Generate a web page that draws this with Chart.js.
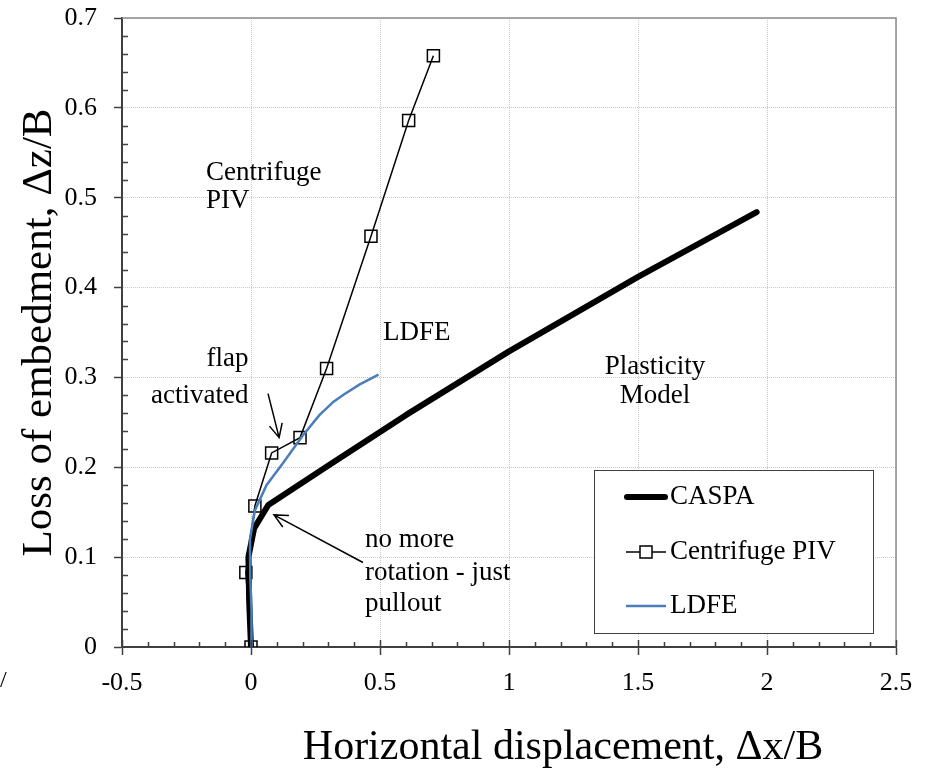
<!DOCTYPE html>
<html>
<head>
<meta charset="utf-8">
<script src="https://cdn.jsdelivr.net/npm/chart.js@4.4.0/dist/chart.umd.min.js"></script>
<style>
  html, body { margin: 0; padding: 0; background: #fff; }
  canvas { display: block; }
</style>
</head>
<body>
<canvas id="chart" width="926" height="771"></canvas>
<script>
// axis ticks
const xTicks = [-0.5, 0, 0.5, 1, 1.5, 2, 2.5];
const yTicks = [0, 0.1, 0.2, 0.3, 0.4, 0.5, 0.6, 0.7];

// series
const seriesNames = ['CASPA', 'Centrifuge PIV', 'LDFE'];
const caspaX = [0, -0.007, -0.01, 0.012, 0.067, 0.3, 0.6, 1.0, 1.5, 1.96];
const caspaY = [0, 0.05, 0.1, 0.132, 0.158, 0.202, 0.258, 0.329, 0.412, 0.484];
const pivX = [0, -0.02, 0.015, 0.08, 0.19, 0.293, 0.465, 0.611, 0.707];
const pivY = [0, 0.083, 0.157, 0.216, 0.233, 0.310, 0.457, 0.586, 0.658];
const ldfeX = [0, 0.002, -0.003, -0.004, 0.015, 0.06, 0.125, 0.2, 0.265, 0.32, 0.36, 0.42, 0.494];
const ldfeY = [0, 0.04, 0.08, 0.12, 0.152, 0.18, 0.205, 0.235, 0.258, 0.273, 0.281, 0.292, 0.303];

const xTitle = 'Horizontal displacement, \u0394x/B';
const yTitle = 'Loss of embedment, \u0394z/B';

// text notes on the plot (in data units)
const noteLines = [
  ['Centrifuge', -0.174, 0.528, 'left'],
  ['PIV', -0.174, 0.496, 'left'],
  ['LDFE', 0.512, 0.349, 'left'],
  ['Plasticity', 1.566, 0.312, 'center'],
  ['Model', 1.566, 0.279, 'center'],
  ['flap', -0.01, 0.321, 'right'],
  ['activated', -0.01, 0.279, 'right'],
  ['no more', 0.442, 0.119, 'left'],
  ['rotation - just', 0.442, 0.083, 'left'],
  ['pullout', 0.442, 0.048, 'left'],
];
const noteArrows = [
  [0.066, 0.282, 0.109, 0.233],
  [0.434, 0.094, 0.089, 0.147],
];

const serif = "'Liberation Serif', 'Times New Roman', serif";

function toPoints(xs, ys) {
  return xs.map((x, i) => ({x: x, y: ys[i]}));
}

const decor = {
  id: 'decor',
  afterDraw(chart) {
    const ctx = chart.ctx;
    const xs = chart.scales.x;
    const ys = chart.scales.y;
    const a = chart.chartArea;
    ctx.save();

    // grey frame on top and right
    ctx.strokeStyle = '#8c8c8c';
    ctx.lineWidth = 1.5;
    ctx.beginPath();
    ctx.moveTo(a.left, a.top);
    ctx.lineTo(a.right, a.top);
    ctx.lineTo(a.right, a.bottom);
    ctx.stroke();

    // minor ticks, inside
    ctx.strokeStyle = '#404040';
    ctx.lineWidth = 1.5;
    ctx.beginPath();
    for (let i = -5; i <= 25; i++) {
      const px = Math.round(xs.getPixelForValue(i / 10)) + 0.5;
      const len = (i % 5 === 0) ? 7 : 5;
      ctx.moveTo(px, a.bottom);
      ctx.lineTo(px, a.bottom - len);
    }
    for (let j = 1; j < 35; j++) {
      if (j % 5 === 0) continue;
      const py = Math.round(ys.getPixelForValue(j / 50)) + 0.5;
      ctx.moveTo(a.left, py);
      ctx.lineTo(a.left + 6, py);
    }
    ctx.stroke();

    // notes
    ctx.fillStyle = '#000';
    ctx.font = '27px ' + serif;
    ctx.textBaseline = 'middle';
    noteLines.forEach(n => {
      ctx.textAlign = n[3];
      ctx.fillText(n[0], xs.getPixelForValue(n[1]), ys.getPixelForValue(n[2]));
    });

    // arrows
    ctx.strokeStyle = '#000';
    ctx.lineWidth = 1.5;
    noteArrows.forEach(ar => {
      const x1 = xs.getPixelForValue(ar[0]), y1 = ys.getPixelForValue(ar[1]);
      const x2 = xs.getPixelForValue(ar[2]), y2 = ys.getPixelForValue(ar[3]);
      const ang = Math.atan2(y2 - y1, x2 - x1);
      const head = 15;
      ctx.beginPath();
      ctx.moveTo(x1, y1);
      ctx.lineTo(x2, y2);
      ctx.moveTo(x2 - head * Math.cos(ang - 0.45), y2 - head * Math.sin(ang - 0.45));
      ctx.lineTo(x2, y2);
      ctx.lineTo(x2 - head * Math.cos(ang + 0.45), y2 - head * Math.sin(ang + 0.45));
      ctx.stroke();
    });

    // axis titles
    ctx.textAlign = 'center';
    ctx.font = '42px ' + serif;
    ctx.fillText(xTitle, 563, 748);
    ctx.save();
    ctx.translate(40, (a.top + a.bottom) / 2);
    ctx.rotate(-Math.PI / 2);
    ctx.font = '43px ' + serif;
    ctx.fillText(yTitle, 0, 0);
    ctx.restore();

    // stray mark at the left edge
    ctx.font = '24px ' + serif;
    ctx.textAlign = 'left';
    ctx.fillText('/', 0, 681);

    // legend box
    const bx = 594, by = 470, bw = 279, bh = 163;
    ctx.fillStyle = '#fff';
    ctx.fillRect(bx, by, bw, bh);
    ctx.strokeStyle = '#404040';
    ctx.lineWidth = 1;
    ctx.strokeRect(bx + 0.5, by + 0.5, bw, bh);
    const rows = [497, 552, 606];
    const ds = chart.data.datasets;
    ctx.font = '27px ' + serif;
    ctx.textAlign = 'left';
    rows.forEach((ry, k) => {
      const d = ds[k];
      ctx.strokeStyle = d.borderColor;
      ctx.lineWidth = d.borderWidth;
      ctx.lineCap = k === 0 ? 'round' : 'butt';
      ctx.beginPath();
      ctx.moveTo(k === 0 ? 627 : 626, ry);
      ctx.lineTo(k === 0 ? 665 : 666, ry);
      ctx.stroke();
      if (k === 1) {
        ctx.fillStyle = '#fff';
        ctx.fillRect(640, ry - 6, 12, 12);
        ctx.lineWidth = 1.5;
        ctx.strokeRect(640, ry - 6, 12, 12);
      }
      ctx.fillStyle = '#000';
      ctx.fillText(seriesNames[k], 670, ry);
    });
    ctx.restore();
  }
};

const ctx = document.getElementById('chart').getContext('2d');
const chart = new Chart(ctx, {
  type: 'scatter',
  data: {
    datasets: [
      {
        label: seriesNames[0],
        data: toPoints(caspaX, caspaY),
        showLine: true,
        borderColor: '#000',
        borderWidth: 6,
        borderCapStyle: 'round',
        borderJoinStyle: 'round',
        pointRadius: 0,
        order: 3,
      },
      {
        label: seriesNames[1],
        data: toPoints(pivX, pivY),
        showLine: true,
        borderColor: '#000',
        borderWidth: 1.5,
        pointStyle: 'rect',
        pointRadius: 8.5,
        pointBorderWidth: 1.5,
        pointBorderColor: '#000',
        pointBackgroundColor: 'rgba(255,255,255,0)',
        order: 2,
      },
      {
        label: seriesNames[2],
        data: toPoints(ldfeX, ldfeY),
        showLine: true,
        borderColor: '#4a7ebb',
        borderWidth: 2.5,
        pointRadius: 0,
        order: 1,
      },
    ],
  },
  options: {
    responsive: false,
    animation: false,
    devicePixelRatio: 1,
    layout: { padding: { top: 18, right: 30, left: 0, bottom: 0 } },
    plugins: {
      legend: { display: false },
      tooltip: { enabled: false },
    },
    scales: {
      x: {
        type: 'linear',
        min: -0.5,
        max: 2.5,
        afterBuildTicks: s => { s.ticks = xTicks.map(v => ({value: v})); },
        afterFit: s => { s.height = 124; s.paddingLeft = 0; s.paddingRight = 0; },
        ticks: {
          padding: 13,
          color: '#000',
          font: { family: serif, size: 26 },
          callback: v => String(v),
        },
        grid: {
          color: '#c8c8c8',
          lineWidth: 1,
          tickLength: 8,
          tickColor: '#404040',
          tickWidth: 1.5,
          tickBorderDash: [],
        },
        border: { color: '#404040', width: 2, dash: [1, 1] },
      },
      y: {
        type: 'linear',
        min: 0,
        max: 0.7,
        afterBuildTicks: s => { s.ticks = yTicks.map(v => ({value: v})); },
        afterFit: s => { s.width = 122; s.paddingTop = 0; s.paddingBottom = 0; },
        ticks: {
          padding: 17,
          color: '#000',
          font: { family: serif, size: 26 },
          callback: v => String(v),
        },
        grid: {
          color: '#c8c8c8',
          lineWidth: 1,
          tickLength: 8,
          tickColor: '#404040',
          tickWidth: 1.5,
          tickBorderDash: [],
        },
        border: { color: '#404040', width: 2, dash: [1, 1] },
      },
    },
  },
  plugins: [decor],
});
</script>
</body>
</html>
